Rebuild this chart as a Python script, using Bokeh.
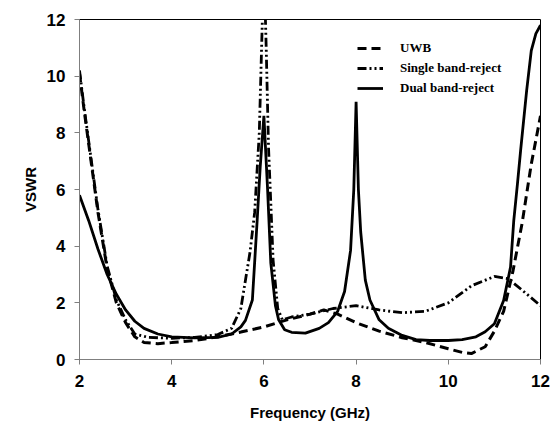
from bokeh.plotting import figure
from bokeh.models import Range1d, FixedTicker, Legend, LegendItem
from bokeh.embed import file_html
from bokeh.resources import INLINE

# ---- data ----
freq_uwb = [2.0, 2.1, 2.2, 2.3, 2.4, 2.5, 2.6, 2.8, 3.0, 3.2, 3.4, 3.7, 4.0, 4.5, 5.0,
            5.5, 6.0, 6.5, 7.0, 7.3, 7.6, 8.0, 8.5, 9.0, 9.5, 10.0, 10.3, 10.5, 10.8,
            11.0, 11.2, 11.4, 11.6, 11.8, 12.0]
vswr_uwb = [10.1, 8.8, 7.6, 6.4, 5.2, 4.2, 3.2, 2.0, 1.3, 0.8, 0.6, 0.56, 0.6, 0.67, 0.8,
            0.97, 1.15, 1.4, 1.6, 1.75, 1.6, 1.3, 1.0, 0.77, 0.6, 0.38, 0.25, 0.21, 0.45,
            1.0, 1.7, 3.1, 4.8, 6.9, 8.6]

freq_single = [2.0, 2.1, 2.2, 2.3, 2.4, 2.5, 2.6, 2.8, 3.0, 3.2, 3.5, 4.0, 4.5, 5.0,
               5.3, 5.5, 5.7, 5.8, 5.9, 5.95, 6.0, 6.05, 6.1, 6.2, 6.3, 6.4, 6.6,
               7.0, 7.5, 8.0, 8.5, 9.0, 9.5, 10.0, 10.5, 11.0, 11.3, 11.6, 12.0]
vswr_single = [10.2, 8.9, 7.7, 6.5, 5.3, 4.3, 3.3, 2.1, 1.4, 0.9, 0.78, 0.75, 0.78, 0.88,
               1.1, 1.8, 3.8, 5.2, 8.0, 11.0, 14.0, 11.0, 7.5, 3.5, 1.8, 1.4, 1.5,
               1.6, 1.8, 1.9, 1.75, 1.65, 1.7, 2.0, 2.6, 2.93, 2.85, 2.45, 1.9]

freq_dual = [2.0, 2.2, 2.4, 2.6, 2.8, 3.0, 3.2, 3.4, 3.7, 4.0, 4.5, 5.0, 5.3, 5.5, 5.6,
             5.75, 5.85, 5.92, 6.0, 6.08, 6.15, 6.25, 6.32, 6.45, 6.6, 6.9, 7.2, 7.4,
             7.6, 7.75, 7.88, 7.95, 8.0, 8.05, 8.1, 8.2, 8.3, 8.5, 8.7, 9.0, 9.3, 9.6,
             10.0, 10.3, 10.6, 10.8, 11.0, 11.2, 11.35, 11.42, 11.5, 11.57, 11.7, 11.8,
             11.9, 12.0]
vswr_dual = [5.8, 4.9, 3.9, 3.0, 2.3, 1.75, 1.35, 1.1, 0.9, 0.8, 0.76, 0.78, 0.9, 1.15, 1.38,
             2.1, 4.8, 6.8, 8.6, 6.0, 3.4, 1.9, 1.4, 1.05, 0.96, 0.93, 1.1, 1.3,
             1.7, 2.4, 3.85, 6.0, 9.1, 6.0, 4.5, 2.8, 2.1, 1.4, 1.1, 0.85, 0.7, 0.67,
             0.67, 0.7, 0.8, 0.98, 1.26, 2.08, 3.26, 4.9, 6.2, 7.4, 9.5, 10.9,
             11.5, 11.8]

x_ticks = [2, 4, 6, 8, 10, 12]
y_ticks = [0, 2, 4, 6, 8, 10, 12]
labels = ["UWB", "Single band-reject", "Dual band-reject"]

p = figure(width=551, height=433, output_backend="svg", toolbar_location=None,
           x_range=Range1d(2, 12), y_range=Range1d(0, 12),
           min_border_left=79, min_border_right=11, min_border_top=19, min_border_bottom=74)

p.xgrid.visible = False
p.ygrid.visible = False
p.outline_line_color = "black"
p.outline_line_width = 1
p.background_fill_color = "white"
p.border_fill_color = "white"

r_uwb = p.line(freq_uwb, vswr_uwb, line_color="black", line_width=3, line_dash="9 5")
r_single = p.line(freq_single, vswr_single, line_color="black", line_width=2.8,
                  line_dash="9 3 2 3 2 3")
r_dual = p.line(freq_dual, vswr_dual, line_color="black", line_width=2.8)

for ax in (p.xaxis[0], p.yaxis[0]):
    ax.axis_line_color = "#7f7f7f"
    ax.major_tick_line_color = "#7f7f7f"
    ax.minor_tick_line_color = None
    ax.major_tick_out = 5
    ax.major_tick_in = 0
    ax.major_label_text_font = "Liberation Sans"
    ax.major_label_text_font_style = "bold"
    ax.major_label_text_font_size = "17px"
    ax.major_label_text_color = "black"
    ax.axis_label_text_font = "Liberation Sans"
    ax.axis_label_text_font_style = "bold"
    ax.axis_label_text_font_size = "15px"
    ax.axis_label_text_color = "black"

p.xaxis.ticker = FixedTicker(ticks=x_ticks)
p.yaxis.ticker = FixedTicker(ticks=y_ticks)
p.xaxis.axis_label = "Frequency (GHz)"
p.yaxis.axis_label = "VSWR"
p.xaxis.major_label_standoff = 10
p.yaxis.major_label_standoff = 9
p.xaxis.axis_label_standoff = 14
p.yaxis.axis_label_standoff = 5

legend = Legend(items=[LegendItem(label=labels[0], renderers=[r_uwb]),
                       LegendItem(label=labels[1], renderers=[r_single]),
                       LegendItem(label=labels[2], renderers=[r_dual])],
                location=(278, 261))
legend.border_line_color = None
legend.background_fill_alpha = 0
legend.padding = 0
legend.margin = 0
legend.spacing = 0
legend.glyph_width = 26
legend.glyph_height = 20
legend.label_height = 20
legend.label_standoff = 17
legend.label_text_font = "Liberation Serif"
legend.label_text_font_style = "bold"
legend.label_text_font_size = "13px"
legend.label_text_color = "black"
p.add_layout(legend, "center")

open("out.html", "w").write(file_html(p, INLINE))
